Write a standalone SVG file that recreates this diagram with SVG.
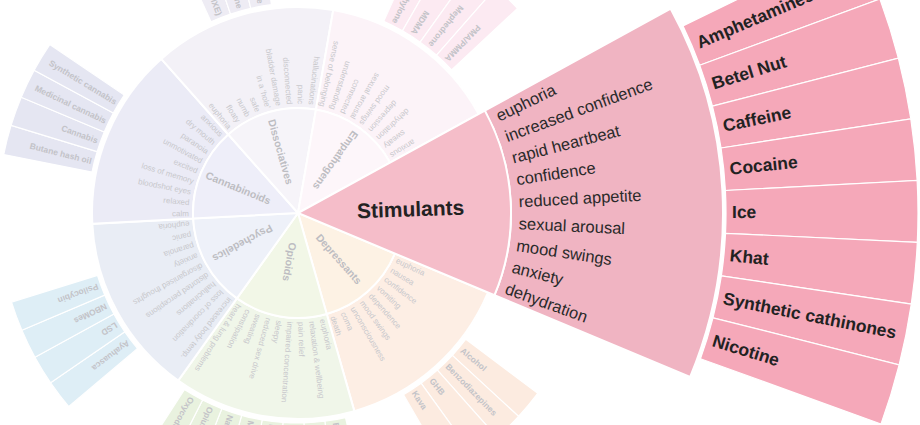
<svg xmlns="http://www.w3.org/2000/svg" width="920" height="425" viewBox="0 0 920 425">
<defs>
<style>
.w{stroke:#fff;stroke-width:2}
.c{stroke:#fff;stroke-width:1.2}
text{font-family:"Liberation Sans",Arial,sans-serif}
.e text{font-size:8px;fill:#c8c8cc}
.k{font-size:10.5px;font-weight:bold;fill:#bdbdc2}
.s text{font-size:8.5px;font-weight:bold;fill:#c3c3c8}
.se text{font-size:16.5px;fill:#2a2a2a}
.sk{font-size:21px;font-weight:bold;fill:#222}
.ss text{font-size:17.5px;font-weight:bold;fill:#222}
.l text{text-anchor:end}
</style>
<path id="wdg" d="M0,0 L94.60,-45.56 A105,105 0 0 1 94.60,45.56 Z"/>
<path id="rng" d="M185.60,-89.38 A206,206 0 0 1 185.60,89.38 L94.60,45.56 A105,105 0 0 0 94.60,-45.56 Z"/>
<path id="cel" d="M209.74,-10.50 L299.63,-14.99 A300,300 0 0 1 299.63,14.99 L209.74,10.50 A210,210 0 0 0 209.74,-10.50 Z"/>
<path id="swdg" d="M0,0 L191.91,-92.42 A213,213 0 0 1 191.91,92.42 Z"/>
<path id="srng" d="M382.91,-184.40 A425,425 0 0 1 382.91,184.40 L191.91,92.42 A213,213 0 0 0 191.91,-92.42 Z"/>
<path id="scel" d="M427.47,-21.39 L619.23,-30.99 A620,620 0 0 1 619.23,30.99 L427.47,21.39 A428,428 0 0 0 427.47,-21.39 Z"/>
</defs>
<g transform="translate(298 213)">

<g id="depressants">
<g fill="#fcebe0" class="c">
<use href="#cel" transform="rotate(39.82)"/><use href="#cel" transform="rotate(45.55)"/><use href="#cel" transform="rotate(51.27)"/><use href="#cel" transform="rotate(57.0)"/>
</g>
<use href="#rng" class="w" fill="#fdeee4" transform="rotate(48.41)"/>
<use href="#wdg" class="w" fill="#fdf2e4" transform="rotate(48.41)"/>
<text class="k" transform="rotate(48.41)" x="30" dy=".35em">Depressants</text>
<g class="e">
<text transform="rotate(25.55)" x="109" dy=".35em">euphoria</text>
<text transform="rotate(31.27)" x="109" dy=".35em">nausea</text>
<text transform="rotate(36.98)" x="109" dy=".35em">confidence</text>
<text transform="rotate(42.70)" x="109" dy=".35em">vomiting</text>
<text transform="rotate(48.41)" x="109" dy=".35em">dependence</text>
<text transform="rotate(54.12)" x="109" dy=".35em">mood swings</text>
<text transform="rotate(59.84)" x="109" dy=".35em">unconsciousness</text>
<text transform="rotate(65.55)" x="109" dy=".35em">coma</text>
<text transform="rotate(71.27)" x="109" dy=".35em">death</text>
</g>
<g class="s">
<text transform="rotate(39.82)" x="213" dy=".35em">Alcohol</text>
<text transform="rotate(45.55)" x="213" dy=".35em">Benzodiazepines</text>
<text transform="rotate(51.27)" x="213" dy=".35em">GHB</text>
<text transform="rotate(57.0)" x="213" dy=".35em">Kava</text>
</g>
</g>

<g id="opioids">
<g fill="#e9f2df" class="c">
<use href="#cel" transform="rotate(79.79)"/><use href="#cel" transform="rotate(85.52)"/><use href="#cel" transform="rotate(91.25)"/><use href="#cel" transform="rotate(96.98)"/><use href="#cel" transform="rotate(102.70)"/><use href="#cel" transform="rotate(108.43)"/><use href="#cel" transform="rotate(114.16)"/><use href="#cel" transform="rotate(119.89)"/>
</g>
<use href="#rng" class="w" fill="#f0f6e9" transform="rotate(99.84)"/>
<use href="#wdg" class="w" fill="#f2f7e7" transform="rotate(99.84)"/>
<text class="k" transform="rotate(99.84)" x="30" dy=".35em">Opioids</text>
<g class="e">
<text transform="rotate(76.98)" x="109" dy=".35em">euphoria</text>
<text transform="rotate(82.70)" x="109" dy=".35em">relaxation &amp; wellbeing</text>
<text transform="rotate(88.41)" x="109" dy=".35em">pain relief</text>
<text transform="rotate(94.13)" x="109" dy=".35em">impaired concentration</text>
<text transform="rotate(99.84)" x="109" dy=".35em">sleepy</text>
<text transform="rotate(105.55)" x="109" dy=".35em">reduced sex drive</text>
<text transform="rotate(111.27)" x="109" dy=".35em">sweating</text>
<text transform="rotate(116.98)" x="109" dy=".35em">constipation</text>
<text transform="rotate(122.70)" x="109" dy=".35em">heart &amp; lung problems</text>
</g>
<g class="s">
<text transform="rotate(79.79)" x="213" dy=".35em">Buprenorphine</text>
<text transform="rotate(96.98)" x="213" dy=".35em">Fentanyl</text>
<text transform="rotate(102.70)" x="213" dy=".35em">Methadone</text>
<text transform="rotate(108.43)" x="213" dy=".35em">Naloxone</text>
<text transform="rotate(114.16)" x="213" dy=".35em">Opium</text>
<text transform="rotate(119.89)" x="213" dy=".35em">Oxycodone</text>
</g>
</g>

<g id="psychedelics">
<g fill="#deeef6" class="c">
<use href="#cel" transform="rotate(142.68)"/><use href="#cel" transform="rotate(148.41)"/><use href="#cel" transform="rotate(154.13)"/><use href="#cel" transform="rotate(159.86)"/>
</g>
<use href="#rng" class="w" fill="#e9edf5" transform="rotate(151.27)"/>
<use href="#wdg" class="w" fill="#eef1f9" transform="rotate(151.27)"/>
<text class="k" transform="rotate(151.27)" x="30" dy=".35em">Psychedelics</text>
<g class="e">
<text transform="rotate(128.41)" x="109" dy=".35em">increased body temp.</text>
<text transform="rotate(134.13)" x="109" dy=".35em">loss of coordination</text>
<text transform="rotate(139.84)" x="109" dy=".35em">hallucinations</text>
<text transform="rotate(145.55)" x="109" dy=".35em">distorted perceptions</text>
<text transform="rotate(151.27)" x="109" dy=".35em">disorganised thoughts</text>
<text transform="rotate(156.98)" x="109" dy=".35em">anxiety</text>
<text transform="rotate(162.70)" x="109" dy=".35em">paranoia</text>
<text transform="rotate(168.41)" x="109" dy=".35em">panic</text>
<text transform="rotate(174.13)" x="109" dy=".35em">euphoria</text>
</g>
<g class="s">
<text transform="rotate(142.68)" x="213" dy=".35em">Ayahuasca</text>
<text transform="rotate(148.41)" x="213" dy=".35em">LSD</text>
<text transform="rotate(154.13)" x="213" dy=".35em">NBOMes</text>
<text transform="rotate(159.86)" x="213" dy=".35em">Psilocybin</text>
</g>
</g>

<g id="cannabinoids">
<g fill="#e5e6f2" class="c">
<use href="#cel" transform="rotate(194.11)"/><use href="#cel" transform="rotate(199.84)"/><use href="#cel" transform="rotate(205.56)"/><use href="#cel" transform="rotate(211.29)"/>
</g>
<use href="#rng" class="w" fill="#ebebf6" transform="rotate(202.70)"/>
<use href="#wdg" class="w" fill="#eeeef9" transform="rotate(202.70)"/>
<text class="k" transform="rotate(22.70)" x="-30" dy=".35em" text-anchor="end">Cannabinoids</text>
<g class="e l">
<text transform="rotate(-0.16)" x="-109" dy=".35em">calm</text>
<text transform="rotate(5.55)" x="-109" dy=".35em">relaxed</text>
<text transform="rotate(11.27)" x="-109" dy=".35em">bloodshot eyes</text>
<text transform="rotate(16.98)" x="-109" dy=".35em">loss of memory</text>
<text transform="rotate(22.70)" x="-109" dy=".35em">excited</text>
<text transform="rotate(28.41)" x="-109" dy=".35em">unmotivated</text>
<text transform="rotate(34.12)" x="-109" dy=".35em">paranoia</text>
<text transform="rotate(39.84)" x="-109" dy=".35em">dry mouth</text>
<text transform="rotate(45.55)" x="-109" dy=".35em">anxious</text>
</g>
<g class="s l">
<text transform="rotate(14.11)" x="-213" dy=".35em">Butane hash oil</text>
<text transform="rotate(19.84)" x="-213" dy=".35em">Cannabis</text>
<text transform="rotate(25.56)" x="-213" dy=".35em">Medicinal cannabis</text>
<text transform="rotate(31.29)" x="-213" dy=".35em">Synthetic cannabis</text>
</g>
</g>

<g id="dissociatives">
<g fill="#eeecf4" class="c">
<use href="#cel" transform="rotate(248.40)"/><use href="#cel" transform="rotate(254.13)"/><use href="#cel" transform="rotate(259.86)"/>
</g>
<use href="#rng" class="w" fill="#f3f1f7" transform="rotate(254.13)"/>
<use href="#wdg" class="w" fill="#f6f4f9" transform="rotate(254.13)"/>
<text class="k" transform="rotate(74.13)" x="-30" dy=".35em" text-anchor="end">Dissociatives</text>
<g class="e l">
<text transform="rotate(51.27)" x="-109" dy=".35em">euphoria</text>
<text transform="rotate(56.98)" x="-109" dy=".35em">floaty</text>
<text transform="rotate(62.70)" x="-109" dy=".35em">numb</text>
<text transform="rotate(68.41)" x="-109" dy=".35em">safe</text>
<text transform="rotate(74.13)" x="-109" dy=".35em">in a ‘hole’</text>
<text transform="rotate(79.84)" x="-109" dy=".35em">bladder damage</text>
<text transform="rotate(85.55)" x="-109" dy=".35em">disconnected</text>
<text transform="rotate(91.27)" x="-109" dy=".35em">panic</text>
<text transform="rotate(96.98)" x="-109" dy=".35em">hallucinations</text>
</g>
<g class="s l">
<text transform="rotate(68.40)" x="-213" dy=".35em">Methoxetamine (MXE)</text>
<text transform="rotate(74.13)" x="-213" dy=".35em">Ketamine</text>
<text transform="rotate(79.86)" x="-213" dy=".35em">Nitrous oxide</text>
</g>
</g>

<g id="empathogens">
<g fill="#fceaf2" class="c">
<use href="#cel" transform="rotate(296.97)"/><use href="#cel" transform="rotate(302.70)"/><use href="#cel" transform="rotate(308.43)"/><use href="#cel" transform="rotate(314.15)"/>
</g>
<use href="#rng" class="w" fill="#fcf3f8" transform="rotate(305.56)"/>
<use href="#wdg" class="w" fill="#fdf6fa" transform="rotate(305.56)"/>
<text class="k" transform="rotate(125.56)" x="-30" dy=".35em" text-anchor="end">Empathogens</text>
<g class="e l">
<text transform="rotate(102.70)" x="-109" dy=".35em">sense of belonging</text>
<text transform="rotate(108.41)" x="-109" dy=".35em">understanding</text>
<text transform="rotate(114.13)" x="-109" dy=".35em">connected</text>
<text transform="rotate(119.84)" x="-109" dy=".35em">sexual arousal</text>
<text transform="rotate(125.55)" x="-109" dy=".35em">mood swings</text>
<text transform="rotate(131.27)" x="-109" dy=".35em">depression</text>
<text transform="rotate(136.98)" x="-109" dy=".35em">dehydration</text>
<text transform="rotate(142.70)" x="-109" dy=".35em">sweaty</text>
<text transform="rotate(148.41)" x="-109" dy=".35em">anxious</text>
</g>
<g class="s l">
<text transform="rotate(116.97)" x="-213" dy=".35em">Methylone</text>
<text transform="rotate(122.70)" x="-213" dy=".35em">MDMA</text>
<text transform="rotate(128.43)" x="-213" dy=".35em">Mephedrone</text>
<text transform="rotate(134.15)" x="-213" dy=".35em">PMA/PMMA</text>
</g>
</g>

<g id="stimulants">
<g fill="#f5a8b9" class="c">
<use href="#scel" transform="rotate(-23.06)"/><use href="#scel" transform="rotate(-17.33)"/><use href="#scel" transform="rotate(-11.60)"/><use href="#scel" transform="rotate(-5.87)"/><use href="#scel" transform="rotate(-0.15)"/><use href="#scel" transform="rotate(5.58)"/><use href="#scel" transform="rotate(11.31)"/><use href="#scel" transform="rotate(17.04)"/>
</g>
<use href="#srng" class="w" fill="#f0b4c2" transform="rotate(-3.01)"/>
<use href="#swdg" class="w" fill="#f5bdc9" transform="rotate(-3.01)"/>
<text class="sk" transform="rotate(-2)" x="59" dy=".35em">Stimulants</text>
<g class="se">
<text transform="rotate(-25.87)" x="221" dy=".35em">euphoria</text>
<text transform="rotate(-20.15)" x="221" dy=".35em">increased confidence</text>
<text transform="rotate(-14.44)" x="221" dy=".35em">rapid heartbeat</text>
<text transform="rotate(-8.72)" x="221" dy=".35em">confidence</text>
<text transform="rotate(-3.01)" x="221" dy=".35em">reduced appetite</text>
<text transform="rotate(2.70)" x="221" dy=".35em">sexual arousal</text>
<text transform="rotate(8.42)" x="221" dy=".35em">mood swings</text>
<text transform="rotate(14.13)" x="221" dy=".35em">anxiety</text>
<text transform="rotate(19.85)" x="221" dy=".35em">dehydration</text>
</g>
<g class="ss">
<text transform="rotate(-23.06)" x="434" dy=".35em">Amphetamines</text>
<text transform="rotate(-17.33)" x="434" dy=".35em">Betel Nut</text>
<text transform="rotate(-11.60)" x="434" dy=".35em">Caffeine</text>
<text transform="rotate(-5.87)" x="434" dy=".35em">Cocaine</text>
<text transform="rotate(-0.15)" x="434" dy=".35em">Ice</text>
<text transform="rotate(5.58)" x="434" dy=".35em">Khat</text>
<text transform="rotate(11.31)" x="434" dy=".35em">Synthetic cathinones</text>
<text transform="rotate(17.04)" x="434" dy=".35em">Nicotine</text>
</g>
</g>

</g>
</svg>
